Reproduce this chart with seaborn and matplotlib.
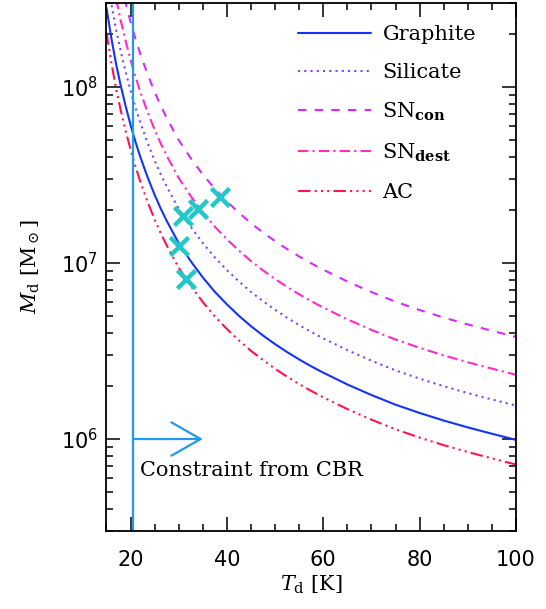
import numpy as np
import pandas as pd
import seaborn as sns
import matplotlib.pyplot as plt
from matplotlib.ticker import MultipleLocator, LogLocator, NullFormatter

# dust temperature grid [K]
T_d = [15, 16, 17, 18, 19, 20, 21, 22, 23.5, 25,
       26.25, 27.5, 28.75, 30, 32.5, 35, 37.5, 40, 42.5, 45,
       47.5, 50, 52.5, 55, 57.5, 60, 65, 70, 75, 80,
       85, 90, 95, 100]

# log10 of dust mass [Msun]
graphite = [8.45, 8.28, 8.13, 8.003, 7.889, 7.785, 7.69, 7.605, 7.49, 7.387,
            7.31, 7.24, 7.176, 7.113, 7.01, 6.918, 6.836, 6.765, 6.70, 6.641,
            6.588, 6.539, 6.494, 6.452, 6.413, 6.377, 6.31, 6.25, 6.195, 6.148,
            6.105, 6.066, 6.03, 5.995]
silicate = [8.645, 8.475, 8.325, 8.198, 8.084, 7.98, 7.885, 7.80, 7.685, 7.582,
            7.505, 7.435, 7.371, 7.308, 7.205, 7.113, 7.031, 6.96, 6.895, 6.836,
            6.783, 6.734, 6.689, 6.647, 6.608, 6.572, 6.505, 6.445, 6.39, 6.343,
            6.30, 6.261, 6.225, 6.19]
sn_con = [9.035, 8.865, 8.715, 8.588, 8.474, 8.37, 8.275, 8.19, 8.075, 7.972,
          7.895, 7.825, 7.761, 7.698, 7.595, 7.503, 7.421, 7.35, 7.285, 7.226,
          7.173, 7.124, 7.079, 7.037, 6.998, 6.962, 6.895, 6.835, 6.78, 6.733,
          6.69, 6.651, 6.615, 6.58]
sn_dest = [8.82, 8.65, 8.50, 8.373, 8.259, 8.155, 8.06, 7.975, 7.86, 7.757,
           7.68, 7.61, 7.546, 7.483, 7.38, 7.288, 7.206, 7.135, 7.07, 7.011,
           6.958, 6.909, 6.864, 6.822, 6.783, 6.747, 6.68, 6.62, 6.565, 6.518,
           6.475, 6.436, 6.40, 6.365]
ac = [8.31, 8.14, 7.99, 7.863, 7.749, 7.645, 7.55, 7.465, 7.35, 7.247,
      7.17, 7.10, 7.036, 6.973, 6.87, 6.778, 6.696, 6.625, 6.56, 6.501,
      6.448, 6.399, 6.354, 6.312, 6.273, 6.237, 6.17, 6.11, 6.055, 6.008,
      5.965, 5.926, 5.89, 5.855]

# observed objects
obs_T = [38.6, 34.1, 30.8, 30.1, 31.5]
obs_M = [2.37e7, 2.04e7, 1.86e7, 1.25e7, 8.1e6]

T_cbr = 20.5

curves = [
    ("Graphite", graphite, "#1433F5", "-"),
    ("Silicate", silicate, "#7A44FF", (0, (1, 2))),
    (r"SN$_{\mathbf{con}}$", sn_con, "#D22CFF", (0, (4, 4))),
    (r"SN$_{\mathbf{dest}}$", sn_dest, "#FF2AC8", (0, (5, 2, 1, 2))),
    ("AC", ac, "#FF1450", (0, (6, 2, 1, 2, 1, 2, 1, 2))),
]

sns.set_style("ticks")
plt.rcParams["mathtext.fontset"] = "dejavuserif"
plt.rcParams["font.family"] = ["DejaVu Sans"]
plt.rcParams.update({"text.color": "black", "axes.labelcolor": "black",
                     "axes.edgecolor": "black", "xtick.color": "black",
                     "ytick.color": "black"})

fig, ax = plt.subplots(figsize=(5.46, 6.09), dpi=100)
fig.subplots_adjust(left=0.195, right=0.945, bottom=0.128, top=0.995)

for name, vals, col, ls in curves:
    df = pd.DataFrame({"T": T_d, "M": 10 ** np.array(vals)})
    sns.lineplot(data=df, x="T", y="M", ax=ax, color=col, linestyle=ls,
                 linewidth=1.5, label=name)

ax.axvline(T_cbr, color="#1E9BF0", lw=1.6)
ax.annotate("", xy=(35, 1e6), xytext=(T_cbr, 1e6),
            arrowprops=dict(arrowstyle="->,head_length=1.05,head_width=0.6",
                            color="#1E9BF0", lw=1.6, mutation_scale=20,
                            shrinkA=0, shrinkB=0))
ax.text(22, 6.6e5, "Constraint from CBR", family="DejaVu Serif", fontsize=15,
        va="center", ha="left")

sns.scatterplot(x=obs_T, y=obs_M, ax=ax, marker="x", s=170, linewidth=3.2,
                color="#22C8C8", zorder=5)

ax.set_yscale("log")
ax.set_xlim(15, 100)
ax.set_ylim(3e5, 3e8)
ax.xaxis.set_major_locator(MultipleLocator(20))
ax.xaxis.set_minor_locator(MultipleLocator(5))
ax.yaxis.set_minor_locator(LogLocator(subs=np.arange(2, 10)))
ax.yaxis.set_minor_formatter(NullFormatter())
ax.tick_params(which="both", direction="in", top=True, right=True, width=1.1,
               labelsize=15)
ax.tick_params(which="major", length=10)
ax.tick_params(axis="x", which="major", pad=14)
ax.tick_params(axis="y", which="major", pad=6)
ax.tick_params(which="minor", length=5)
for sp in ax.spines.values():
    sp.set_linewidth(1.3)

ax.set_xlabel(r"$T_{\rm d}$ [K]", family="DejaVu Serif", fontsize=15, labelpad=2)
ax.set_ylabel(r"$M_{\rm d}$ [M$_\odot$]", family="DejaVu Serif", fontsize=15,
              labelpad=14)

leg = ax.legend(loc="upper left", bbox_to_anchor=(0.468, 0.958), frameon=False,
                prop={"family": "DejaVu Serif", "size": 15}, handlelength=3.5,
                handletextpad=0.55, labelspacing=0.9, borderpad=0,
                borderaxespad=0)

fig.savefig("out.png", dpi=100)
